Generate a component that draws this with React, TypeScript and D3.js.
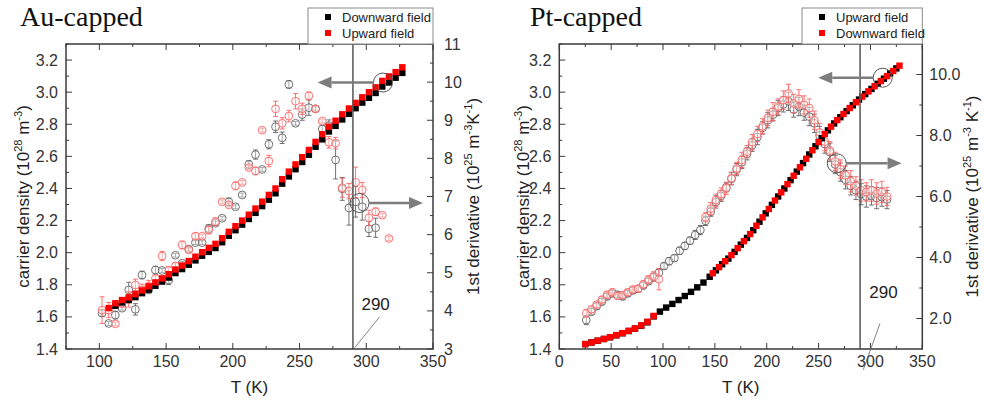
import React from 'react';
import * as d3 from 'd3';

// ---- Au-capped panel data: [T (K), carrier density (1e28 m^-3)]
const auSqDown: [number, number][] = [
  [112, 1.669], [117, 1.69], [122, 1.705], [127, 1.723], [132, 1.748], [137, 1.77], [142, 1.794],
  [147, 1.82], [152, 1.845], [157, 1.873], [162, 1.898], [167, 1.925], [172, 1.952], [177, 1.981],
  [182, 2.005], [187, 2.029], [192, 2.065], [197, 2.105], [202, 2.14], [207, 2.175], [212, 2.21],
  [217, 2.248], [222, 2.29], [227, 2.33], [232, 2.37], [237, 2.43], [242, 2.475], [247, 2.52],
  [252, 2.565], [257, 2.61], [262, 2.66], [267, 2.706], [272, 2.755], [277, 2.79], [282, 2.83],
  [287, 2.865], [292, 2.9], [297, 2.935], [302, 2.965], [307, 2.995], [312, 3.035], [317, 3.06],
  [322, 3.09], [327, 3.12],
];
const auSqUp: [number, number][] = [
  [107, 1.655], [112, 1.685], [117, 1.705], [122, 1.722], [127, 1.742], [132, 1.765], [137, 1.79],
  [142, 1.815], [147, 1.84], [152, 1.866], [157, 1.895], [162, 1.92], [167, 1.948], [172, 1.975],
  [177, 2.003], [182, 2.03], [187, 2.055], [192, 2.09], [197, 2.13], [202, 2.165], [207, 2.2],
  [212, 2.237], [217, 2.275], [222, 2.318], [227, 2.36], [232, 2.4], [237, 2.458], [242, 2.505],
  [247, 2.55], [252, 2.595], [257, 2.64], [262, 2.69], [267, 2.738], [272, 2.785], [277, 2.822],
  [282, 2.862], [287, 2.898], [292, 2.933], [297, 2.968], [302, 3.0], [307, 3.03], [312, 3.07],
  [317, 3.098], [322, 3.125], [327, 3.155],
];
// [T, 1st derivative (1e25 m^-3 K^-1), error]
const auDerDown: [number, number, number][] = [
  [102, 3.94, 0.08], [107, 3.67, 0.05], [112, 3.89, 0.1], [117, 4.07, 0.05], [122, 4.55, 0.2],
  [127, 4.04, 0.15], [132, 4.94, 0.1], [137, 4.55, 0.08], [142, 5.07, 0.1], [147, 5.06, 0.05],
  [152, 4.81, 0.12], [157, 5.46, 0.05], [162, 5.25, 0.05], [167, 5.62, 0.05], [172, 5.79, 0.05],
  [177, 5.79, 0.05], [182, 6.16, 0.1], [187, 6.3, 0.05], [192, 6.43, 0.05], [197, 6.86, 0.1],
  [202, 6.73, 0.05], [207, 7.04, 0.05], [212, 7.84, 0.1], [217, 8.1, 0.12], [222, 7.71, 0.05],
  [227, 8.37, 0.12], [232, 8.83, 0.15], [237, 8.54, 0.15], [242, 9.94, 0.1], [247, 8.92, 0.05],
  [252, 9.15, 0.15], [257, 9.33, 0.2], [262, 9.3, 0.05], [267, 8.77, 0.1], [272, 8.86, 0.15],
  [277, 7.96, 0.5], [282, 7.2, 0.3], [287, 6.7, 0.45], [292, 6.86, 0.4], [297, 6.73, 0.35],
  [302, 6.15, 0.2], [307, 6.18, 0.25],
];
const auDerUp: [number, number, number][] = [
  [102, 4.02, 0.35], [107, 4.02, 0.2], [112, 3.66, 0.05], [117, 4.2, 0.1], [122, 4.3, 0.2],
  [127, 4.68, 0.15], [132, 4.55, 0.15], [137, 4.65, 0.15], [142, 4.85, 0.1], [147, 5.44, 0.12],
  [152, 5.06, 0.1], [157, 5.18, 0.08], [162, 5.73, 0.1], [167, 5.6, 0.05], [172, 5.96, 0.08],
  [177, 5.96, 0.05], [182, 6.12, 0.1], [187, 6.34, 0.1], [192, 6.86, 0.05], [197, 6.78, 0.05],
  [202, 7.28, 0.1], [207, 7.37, 0.05], [212, 7.76, 0.05], [217, 7.67, 0.1], [222, 8.74, 0.05],
  [227, 7.93, 0.15], [232, 9.3, 0.2], [237, 8.92, 0.15], [242, 9.11, 0.15], [247, 9.5, 0.2],
  [252, 9.3, 0.15], [257, 9.64, 0.1], [262, 9.3, 0.08], [267, 8.98, 0.05], [272, 8.42, 0.15],
  [277, 8.4, 0.15], [282, 7.23, 0.25], [287, 7.14, 0.2], [292, 7.37, 0.4], [297, 7.17, 0.2],
  [302, 6.44, 0.2], [307, 6.6, 0.1], [312, 6.51, 0.05], [317, 5.9, 0.05],
];

// ---- Pt-capped panel data
const ptSqUp: [number, number][] = [
  [25, 1.431], [31, 1.441], [37, 1.451], [43, 1.462], [49, 1.473], [55, 1.485], [61, 1.498],
  [67, 1.512], [73, 1.527], [79, 1.545], [85, 1.566], [91, 1.603], [97, 1.633], [103, 1.658],
  [109, 1.681], [115, 1.705], [121, 1.73], [127, 1.756], [133, 1.784], [139, 1.814], [145, 1.85],
  [151, 1.89], [157, 1.928], [163, 1.963], [169, 2.005], [175, 2.05], [181, 2.092], [187, 2.14],
  [193, 2.193], [199, 2.245], [205, 2.298], [211, 2.35], [217, 2.4], [223, 2.452], [229, 2.505],
  [235, 2.558], [241, 2.612], [247, 2.663], [253, 2.713], [259, 2.762], [265, 2.805], [271, 2.844],
  [277, 2.882], [283, 2.918], [289, 2.954], [295, 2.988], [301, 3.02], [307, 3.052], [313, 3.084],
  [319, 3.117], [325, 3.148],
];
const ptSqDown: [number, number][] = [
  [25, 1.43], [31, 1.44], [37, 1.452], [43, 1.463], [49, 1.474], [55, 1.487], [61, 1.499],
  [67, 1.513], [73, 1.528], [79, 1.547], [85, 1.57], [91, 1.606],
  [148, 1.872], [154, 1.91], [160, 1.947], [166, 1.985], [172, 2.028], [178, 2.072], [184, 2.116],
  [190, 2.168], [196, 2.22], [202, 2.272], [208, 2.325], [214, 2.376], [220, 2.427], [226, 2.479],
  [232, 2.532], [238, 2.585], [244, 2.638], [250, 2.689], [256, 2.739], [262, 2.785], [268, 2.826],
  [274, 2.864], [280, 2.901], [286, 2.937], [292, 2.972], [298, 3.005], [304, 3.037], [310, 3.069],
  [316, 3.1], [322, 3.132], [328, 3.165],
];
const ptDerUp: [number, number, number][] = [
  [26, 1.95, 0.15], [31, 2.22, 0.1], [36, 2.4, 0.1], [41, 2.55, 0.1], [46, 2.72, 0.1],
  [51, 2.82, 0.1], [56, 2.78, 0.1], [61, 2.72, 0.1], [66, 2.82, 0.1], [71, 2.92, 0.1],
  [76, 2.97, 0.1], [81, 3.08, 0.1], [86, 3.22, 0.1], [91, 3.35, 0.12], [96, 3.5, 0.12],
  [101, 3.72, 0.1], [106, 3.88, 0.12], [111, 3.98, 0.1], [116, 4.22, 0.12], [121, 4.38, 0.12],
  [126, 4.55, 0.12], [131, 4.74, 0.15], [136, 4.9, 0.15], [141, 5.2, 0.15], [146, 5.5, 0.15],
  [151, 5.82, 0.2], [156, 6.02, 0.18], [161, 6.3, 0.15], [166, 6.58, 0.2], [171, 6.88, 0.2],
  [176, 7.12, 0.2], [181, 7.4, 0.2], [186, 7.68, 0.2], [191, 7.95, 0.25], [196, 8.25, 0.2],
  [201, 8.5, 0.25], [206, 8.68, 0.2], [211, 8.9, 0.25], [216, 9.02, 0.25], [221, 9.12, 0.3],
  [226, 8.85, 0.25], [231, 8.95, 0.3], [236, 8.75, 0.25], [241, 8.62, 0.3], [246, 8.4, 0.3],
  [251, 8.0, 0.3], [256, 7.72, 0.3], [261, 7.45, 0.3], [266, 7.05, 0.3], [271, 6.8, 0.3],
  [276, 6.55, 0.3], [281, 6.35, 0.3], [286, 6.2, 0.3], [291, 6.08, 0.35], [296, 6.0, 0.35],
  [301, 6.02, 0.3], [306, 5.95, 0.35], [311, 5.98, 0.3], [316, 5.9, 0.3],
];
const ptDerDown: [number, number, number][] = [
  [26, 2.17, 0.12], [31, 2.3, 0.1], [36, 2.45, 0.1], [41, 2.62, 0.1], [46, 2.78, 0.1],
  [51, 2.86, 0.1], [56, 2.74, 0.1], [61, 2.77, 0.1], [66, 2.86, 0.1], [71, 2.95, 0.1],
  [76, 2.98, 0.1], [81, 3.12, 0.12], [86, 3.28, 0.12], [91, 3.38, 0.15], [96, 3.29, 0.35],
  [141, 5.32, 0.15], [146, 5.6, 0.2], [151, 5.88, 0.2], [156, 6.08, 0.2], [161, 6.27, 0.2],
  [166, 6.6, 0.2], [171, 6.92, 0.2], [176, 7.2, 0.25], [181, 7.47, 0.2], [186, 7.78, 0.25],
  [191, 8.05, 0.25], [196, 8.3, 0.25], [201, 8.58, 0.25], [206, 8.78, 0.3], [211, 8.95, 0.25],
  [216, 9.16, 0.3], [221, 9.38, 0.3], [226, 9.05, 0.3], [231, 9.2, 0.3], [236, 9.0, 0.3],
  [241, 8.9, 0.3], [246, 8.5, 0.3], [251, 8.1, 0.3], [256, 7.8, 0.3], [261, 7.5, 0.3],
  [266, 7.15, 0.3], [271, 6.9, 0.3], [276, 6.7, 0.3], [281, 6.5, 0.35], [286, 6.35, 0.3],
  [291, 6.2, 0.35], [296, 6.15, 0.3], [301, 6.2, 0.35], [306, 6.1, 0.35], [311, 6.15, 0.35],
  [316, 6.0, 0.3],
];

// ---- axes
const densityTicks = [1.4, 1.6, 1.8, 2.0, 2.2, 2.4, 2.6, 2.8, 3.0, 3.2];
const auXTicks = [100, 150, 200, 250, 300, 350];
const ptXTicks = [0, 50, 100, 150, 200, 250, 300, 350];
const auDerTicks = [3, 4, 5, 6, 7, 8, 9, 10, 11];
const ptDerTicks = [2, 4, 6, 8, 10];

const TOP = 44;
const BOTTOM = 349;
const AX = '#3a3a3a';
const GREY_C = '#5a5a5a';
const RED_C = '#ff5c5c';
const ARROW_C = '#7d7d7d';

// superscript followed by the normal-size text that comes after it
const Sup = ({ s, after }: { s: string; after: string }) => (
  <>
    <tspan dy={-7} fontSize={11}>{s}</tspan>
    <tspan dy={7}>{after}</tspan>
  </>
);

function Arrow({ x1, y1, x2, y2 }: { x1: number; y1: number; x2: number; y2: number }) {
  const dir = Math.sign(x2 - x1);
  const hl = 14;
  const hw = 6;
  return (
    <g>
      <line x1={x1} y1={y1} x2={x2 - dir * hl} y2={y2} stroke={ARROW_C} strokeWidth={2.5} />
      <path d={`M${x2},${y2}L${x2 - dir * hl},${y2 - hw}L${x2 - dir * hl},${y2 + hw}Z`} fill={ARROW_C} />
    </g>
  );
}

interface PanelProps {
  left: number;
  right: number;
  xDomain: [number, number];
  xTicks: number[];
  y2Domain: [number, number];
  y2Ticks: number[];
  y2Minor: number[];
  y2Fmt: (d: number) => string;
  y2Gap: number;
  title: string;
  titleX: number;
  legend: [string, string];
  legendX: number;
  sqBlack: [number, number][];
  sqRed: [number, number][];
  derBlack: [number, number, number][];
  derRed: [number, number, number][];
  ann: {
    c1: [number, number]; tip1: number;
    c2: [number, number]; tip2: number;
    label: [number, number]; lead: [number, number, number, number];
  };
  yTitleX: number;
  y2TitleX: number;
  kSpace: string;
}

function Panel(p: PanelProps) {
  const x = d3.scaleLinear().domain(p.xDomain).range([p.left, p.right]);
  const y = d3.scaleLinear().domain([1.4, 3.3]).range([BOTTOM, TOP]);
  const y2 = d3.scaleLinear().domain(p.y2Domain).range([BOTTOM, TOP]);
  const xMinor = d3.range(p.xDomain[0], p.xDomain[1] + 0.1, 25).filter((t) => !p.xTicks.includes(t));
  const yMinor = d3.range(1.5, 3.31, 0.2);
  const font = 'Liberation Sans, Arial, sans-serif';
  const a = p.ann;

  const derMarks = (data: [number, number, number][], color: string, op: number) =>
    data.map(([t, v, e], i) => (
      <g key={i} stroke={color} strokeOpacity={op} fill="none" strokeWidth={1}>
        <line x1={x(t)} x2={x(t)} y1={y2(v - e)} y2={y2(v + e)} />
        <line x1={x(t) - 2.5} x2={x(t) + 2.5} y1={y2(v - e)} y2={y2(v - e)} />
        <line x1={x(t) - 2.5} x2={x(t) + 2.5} y1={y2(v + e)} y2={y2(v + e)} />
        <circle cx={x(t)} cy={y2(v)} r={3.9} fill="#fff" fillOpacity={0.4} />
      </g>
    ));

  const sqMarks = (data: [number, number][], color: string) =>
    data.map(([t, v], i) => <rect key={i} x={x(t) - 3.2} y={y(v) - 3.2} width={6.4} height={6.4} fill={color} />);

  const cx = (p.left + p.right) / 2;
  const cy = (TOP + BOTTOM) / 2;

  return (
    <g fontFamily={font}>
      <text x={p.titleX} y={26} fontFamily="Liberation Serif, Times New Roman, serif" fontSize={28} fill="#111">
        {p.title}
      </text>

      {/* data */}
      {derMarks(p.derBlack, GREY_C, 0.85)}
      {derMarks(p.derRed, RED_C, 0.85)}
      {sqMarks(p.sqBlack, '#000')}
      {sqMarks(p.sqRed, '#ff0000')}

      {/* 290 K marker */}
      <line x1={x(290)} x2={x(290)} y1={TOP} y2={BOTTOM} stroke="#555" strokeWidth={1.5} />

      {/* frame */}
      <rect x={p.left} y={TOP} width={p.right - p.left} height={BOTTOM - TOP} fill="none" stroke={AX} strokeWidth={1.5} />

      {/* x ticks */}
      {p.xTicks.map((t) => (
        <g key={t}>
          <line x1={x(t)} x2={x(t)} y1={BOTTOM} y2={BOTTOM - 6} stroke={AX} />
          <line x1={x(t)} x2={x(t)} y1={TOP} y2={TOP + 6} stroke={AX} />
          <text x={x(t)} y={367} textAnchor="middle" fontSize={16} fill="#333">{t}</text>
        </g>
      ))}
      {xMinor.map((t) => (
        <g key={'m' + t}>
          <line x1={x(t)} x2={x(t)} y1={BOTTOM} y2={BOTTOM - 3} stroke={AX} />
          <line x1={x(t)} x2={x(t)} y1={TOP} y2={TOP + 3} stroke={AX} />
        </g>
      ))}

      {/* left y ticks */}
      {densityTicks.map((v) => (
        <g key={v}>
          <line x1={p.left} x2={p.left + 6} y1={y(v)} y2={y(v)} stroke={AX} />
          <text x={p.left - 8} y={y(v) + 5.5} textAnchor="end" fontSize={16} fill="#333">{v.toFixed(1)}</text>
        </g>
      ))}
      {yMinor.map((v) => (
        <line key={'ym' + v} x1={p.left} x2={p.left + 3} y1={y(v)} y2={y(v)} stroke={AX} />
      ))}

      {/* right y ticks */}
      {p.y2Ticks.map((v) => (
        <g key={'r' + v}>
          <line x1={p.right} x2={p.right - 6} y1={y2(v)} y2={y2(v)} stroke={AX} />
          <text x={p.right + p.y2Gap} y={y2(v) + 5.5} fontSize={16} fill="#333">{p.y2Fmt(v)}</text>
        </g>
      ))}
      {p.y2Minor.map((v) => (
        <line key={'rm' + v} x1={p.right} x2={p.right - 3} y1={y2(v)} y2={y2(v)} stroke={AX} />
      ))}

      {/* axis titles */}
      <text x={cx} y={393} textAnchor="middle" fontSize={17} fill="#222">T (K)</text>
      <text transform={`translate(${p.yTitleX},${cy}) rotate(-90)`} textAnchor="middle" fontSize={17} fill="#222">
        carrier density (10<Sup s="28" after=" m" /><Sup s="-3" after=")" />
      </text>
      <text transform={`translate(${p.y2TitleX},${cy}) rotate(-90)`} textAnchor="middle" fontSize={17} fill="#222">
        1st derivative (10<Sup s="25" after=" m" /><Sup s="-3" after={p.kSpace + 'K'} /><Sup s="-1" after=")" />
      </text>

      {/* legend */}
      <rect x={p.legendX} y={8} width={p.right - p.legendX} height={TOP - 8} fill="#fff" stroke="#8a8a8a" strokeWidth={1} />
      <rect x={p.legendX + 17} y={14} width={6} height={6} fill="#000" />
      <rect x={p.legendX + 17} y={30} width={6} height={6} fill="#ff0000" />
      <text x={p.legendX + 34} y={22} fontSize={13} fill="#222">{p.legend[0]}</text>
      <text x={p.legendX + 34} y={38} fontSize={13} fill="#222">{p.legend[1]}</text>

      {/* annotation arrows */}
      <circle cx={x(a.c1[0])} cy={y(a.c1[1])} r={9.5} fill="none" stroke="#555" strokeWidth={1} />
      <Arrow x1={x(a.c1[0]) - 9.5} y1={y(a.c1[1])} x2={x(a.tip1)} y2={y(a.c1[1])} />
      <circle cx={x(a.c2[0])} cy={y2(a.c2[1])} r={9.5} fill="none" stroke="#555" strokeWidth={1} />
      <Arrow x1={x(a.c2[0]) + 9.5} y1={y2(a.c2[1])} x2={x(a.tip2)} y2={y2(a.c2[1])} />

      <text x={x(a.label[0])} y={y(a.label[1])} textAnchor="middle" fontSize={17} fill="#222">290</text>
      <line x1={x(a.lead[0])} y1={y(a.lead[1])} x2={x(a.lead[2])} y2={y(a.lead[3])} stroke="#666" strokeWidth={0.8} />
    </g>
  );
}

export default function App() {
  return (
    <svg width={984} height={402} style={{ position: 'absolute', left: 0, top: 0, background: '#fff' }}>
      <Panel
        left={66}
        right={433}
        xDomain={[75, 350]}
        xTicks={auXTicks}
        y2Domain={[3, 11]}
        y2Ticks={auDerTicks}
        y2Minor={d3.range(3.5, 11, 1)}
        y2Fmt={(d) => String(d)}
        y2Gap={11}
        title="Au-capped"
        titleX={20}
        legend={['Downward field', 'Upward field']}
        legendX={308}
        sqBlack={auSqDown}
        sqRed={auSqUp}
        derBlack={auDerDown}
        derRed={auDerUp}
        ann={{ c1: [312.5, 3.06], tip1: 263.5, c2: [295, 6.83], tip2: 342.5, label: [307, 1.64], lead: [310, 1.6, 291.5, 1.41] }}
        yTitleX={29}
        y2TitleX={479}
        kSpace=""
      />
      <Panel
        left={559.3}
        right={922.3}
        xDomain={[0, 350]}
        xTicks={ptXTicks}
        y2Domain={[1, 11]}
        y2Ticks={ptDerTicks}
        y2Minor={[3, 5, 7, 9]}
        y2Fmt={(d) => d.toFixed(1)}
        y2Gap={7}
        title="Pt-capped"
        titleX={530}
        legend={['Upward field', 'Downward field']}
        legendX={802}
        sqBlack={ptSqUp}
        sqRed={ptSqDown}
        derBlack={ptDerUp}
        derRed={ptDerDown}
        ann={{ c1: [311.8, 3.09], tip1: 249.7, c2: [267.5, 7.09], tip2: 330, label: [312.5, 1.72], lead: [309.2, 1.56, 293.1, 1.27] }}
        yTitleX={529}
        y2TitleX={978}
        kSpace=" "
      />
    </svg>
  );
}
